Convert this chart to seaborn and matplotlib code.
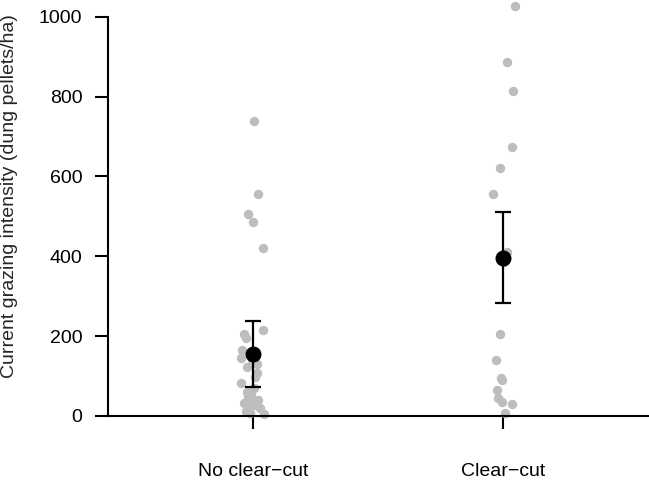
import numpy as np
import pandas as pd
import matplotlib
matplotlib.use("Agg")
import matplotlib.pyplot as plt
import seaborn as sns

# treatment groups
groups = ["No clear\u2212cut", "Clear\u2212cut"]

# dung pellet counts per plot
no_clearcut = [740, 556, 506, 486, 422, 216, 205, 195, 165, 153, 145, 140, 130,
               123, 108, 98, 83, 70, 60, 55, 48, 40, 35, 33, 28, 20, 15, 12, 8, 5]
clearcut = [1026, 886, 815, 675, 622, 556, 412, 385, 205, 140, 94, 90, 65,
            44, 36, 29, 7]

# model estimates with error bounds
est_mean = [155, 396]
est_low = [73, 284]
est_high = [239, 511]

df = pd.DataFrame({
    "group": [groups[0]] * len(no_clearcut) + [groups[1]] * len(clearcut),
    "pellets": no_clearcut + clearcut,
})

sns.set_style("ticks")
plt.rcParams["font.family"] = ["Liberation Sans", "DejaVu Sans"]

fig = plt.figure(figsize=(6.49, 4.84), dpi=100)
ax = fig.add_axes([0.1664, 0.1405, 0.8336, 0.8595])

np.random.seed(3)
sns.stripplot(data=df, x="group", y="pellets", order=groups, color="#bdbdbd",
              size=6.8, jitter=0.05, linewidth=0, ax=ax, clip_on=False, zorder=2)

pos = np.arange(len(groups))
mean = np.array(est_mean)
yerr = [mean - np.array(est_low), np.array(est_high) - mean]
ax.errorbar(pos, mean, yerr=yerr, fmt="o", color="black", ms=10.5,
            capsize=6, elinewidth=1.6, capthick=1.6, zorder=4)

ax.set_xlim(-0.58, 1.584)
ax.set_ylim(0, 1042)
ax.set_yticks([0, 200, 400, 600, 800, 1000])
ax.spines["left"].set_bounds(0, 1000)
for side in ["top", "right"]:
    ax.spines[side].set_visible(False)
for side in ["left", "bottom"]:
    ax.spines[side].set_linewidth(1.5)
    ax.spines[side].set_color("black")

ax.tick_params(axis="y", direction="out", length=9.5, width=1.5, pad=9,
               labelsize=14, colors="black")
ax.tick_params(axis="x", direction="out", length=9.5, width=1.5, pad=24,
               labelsize=14, colors="black")

ax.set_xlabel("")
ax.set_ylabel("Current grazing intensity (dung pellets/ha)", fontsize=14)
ax.yaxis.set_label_coords(-0.166, 0.529)

fig.savefig("out.png", dpi=100)
